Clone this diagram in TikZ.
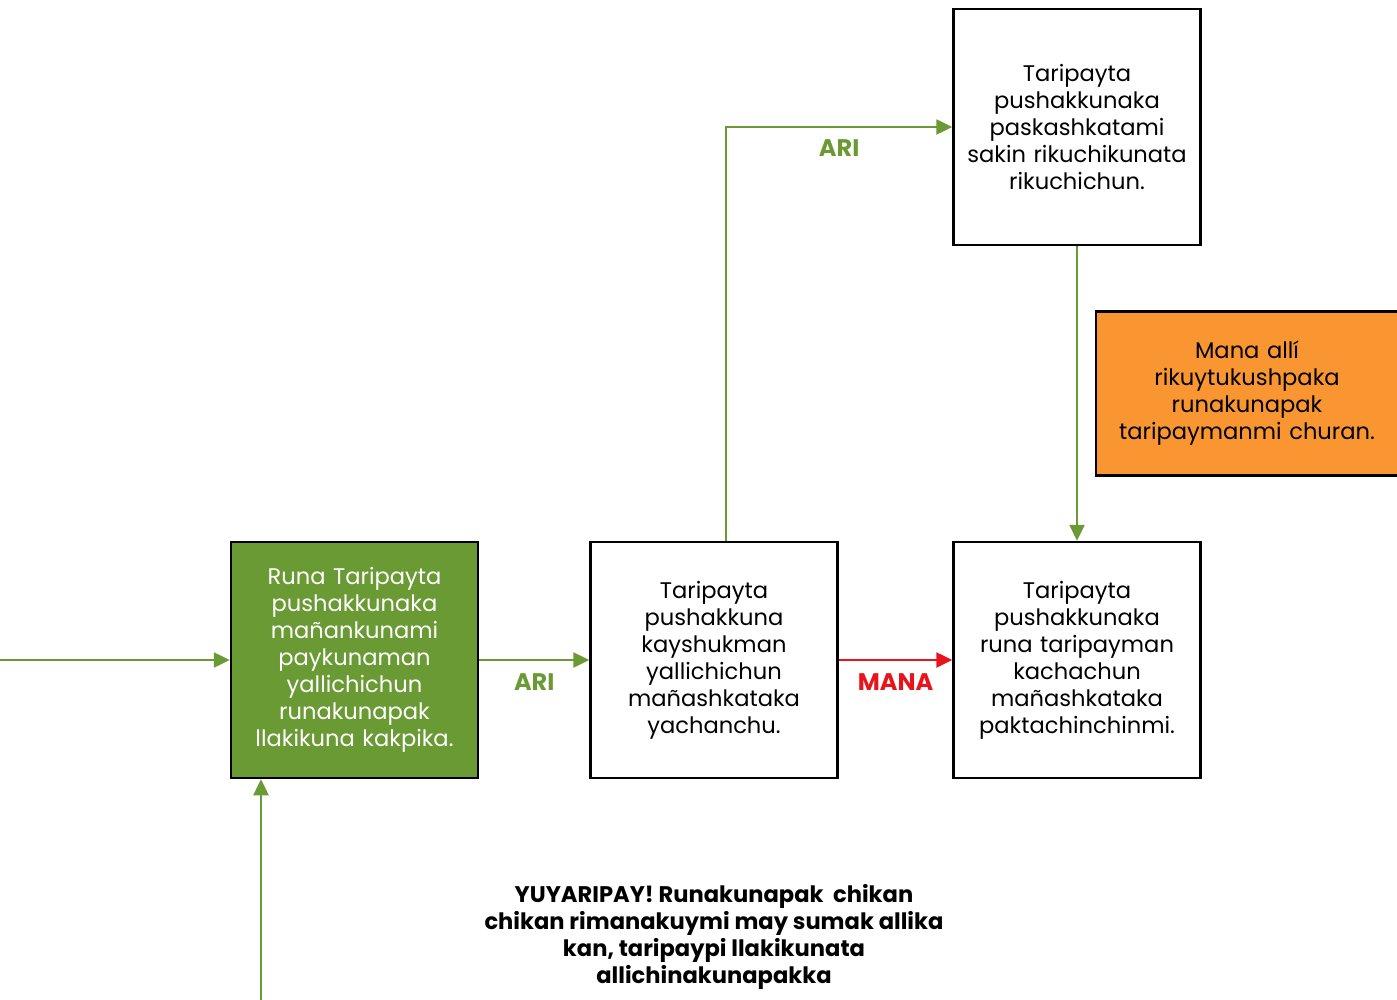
\documentclass[tikz,border=0pt]{standalone}
\usepackage{fontspec}
\setmainfont{Poppins}
\usetikzlibrary{arrows.meta,positioning,calc}
\definecolor{leaf}{HTML}{6A9A34}
\definecolor{stopred}{HTML}{E8141B}
\definecolor{warn}{HTML}{F99632}
\begin{document}
\begin{tikzpicture}[x=1pt,y=-1pt,
  box/.style={draw=black,line width=2.5pt,minimum width=247pt,minimum height=236pt,
    text width=240pt,align=center,inner sep=0pt,font=\fontsize{22.6}{27}\selectfont},
  conn/.style={line width=2.5pt,-{Triangle[length=16pt,width=15pt]}},
  lbl/.style={font=\fontsize{24}{27}\selectfont\bfseries}]
\useasboundingbox (0,0) rectangle (1397,1000);
\node[box,fill=leaf,text=white] (g) at (354.5,660) {\raisebox{-2pt}{}Runa Taripayta\\pushakkunaka\\mañankunami\\paykunaman\\yallichichun\\runakunapak\\llakikuna kakpika.};
\node[box] (b2) at (714,660) {Taripayta\\pushakkuna\\kayshukman\\yallichichun\\mañashkataka\\yachanchu.};
\node[box] (b3) at (1077,660) {Taripayta\\pushakkunaka\\runa taripayman\\kachachun\\mañashkataka\\paktachinchinmi.};
\node[box] (top) at (1077,127) {Taripayta\\pushakkunaka\\paskashkatami\\sakin rikuchikunata\\rikuchichun.};
\node[draw=black,line width=2.5pt,fill=warn,minimum width=302pt,minimum height=164pt,text width=295pt,align=center,inner sep=0pt,font=\fontsize{22.6}{27}\selectfont] (note) at (1247,393.5) {Mana allí\\rikuytukushpaka\\runakunapak\\taripaymanmi churan.};
\node[font=\fontsize{22.6}{27}\selectfont\bfseries,align=center] (warnt) at (714,937) {YUYARIPAY! Runakunapak\ \ chikan\\chikan rimanakuymi may sumak allika\\kan, taripaypi llakikunata\\allichinakunapakka};
\coordinate (inL) at (0,660);
\coordinate (inB) at (261,1000);
\coordinate (up) at (726,127);
\draw[conn,leaf] (inL) -- (g.west);
\draw[conn,leaf] (inB) -- (inB |- g.south);
\draw[conn,leaf] (g.east) -- (b2.west) node[midway,below=9pt,lbl,text=leaf] (a1) {ARI};
\draw[conn,stopred] (b2.east) -- (b3.west) node[midway,below=9pt,lbl,text=stopred] (a2) {MANA};
\draw[conn,leaf] (up |- b2.north) -- (up) -- (top.west) node[midway,below=8pt,lbl,text=leaf] (a3) {ARI};
\draw[conn,leaf] (top.south) -- (b3.north);
\end{tikzpicture}
\end{document}
